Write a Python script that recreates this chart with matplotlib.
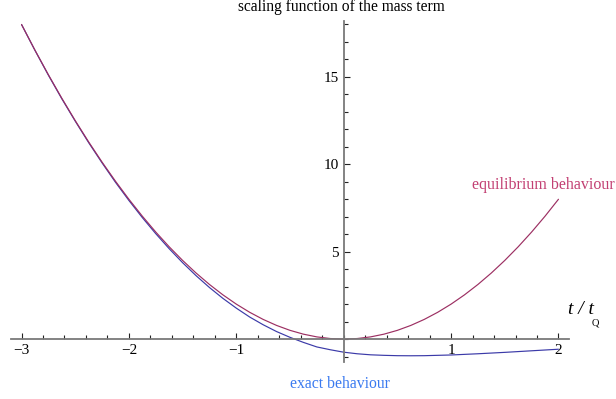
import matplotlib
matplotlib.use("Agg")
import matplotlib.pyplot as plt
from matplotlib.ticker import MultipleLocator, FixedLocator, FixedFormatter

# scaled time t / t_Q
t = [-3.0, -2.875, -2.75, -2.625, -2.5, -2.375, -2.25, -2.125,
     -2.0, -1.875, -1.75, -1.625, -1.5, -1.375, -1.25, -1.125,
     -1.0, -0.875, -0.75, -0.625, -0.5, -0.375, -0.25, -0.125,
     0.0, 0.125, 0.25, 0.375, 0.5, 0.625, 0.75, 0.875,
     1.0, 1.125, 1.25, 1.375, 1.5, 1.625, 1.75, 1.875, 2.0]

# equilibrium (adiabatic) mass term
equilibrium = [18.0, 16.53125, 15.125, 13.78125, 12.5, 11.28125, 10.125, 9.03125,
               8.0, 7.03125, 6.125, 5.28125, 4.5, 3.78125, 3.125, 2.53125,
               2.0, 1.53125, 1.125, 0.78125, 0.5, 0.28125, 0.125, 0.03125,
               0.0, 0.03125, 0.125, 0.28125, 0.5, 0.78125, 1.125, 1.53125,
               2.0, 2.53125, 3.125, 3.78125, 4.5, 5.28125, 6.125, 7.03125, 8.0]

# exact solution of the mass term
exact = [18.0, 16.52, 15.10, 13.75, 12.47, 11.24, 10.08, 8.97,
         7.93, 6.95, 6.03, 5.17, 4.37, 3.63, 2.95, 2.33,
         1.77, 1.26, 0.82, 0.43, 0.10, -0.19, -0.45, -0.61,
         -0.75, -0.84, -0.90, -0.93, -0.95, -0.955, -0.95, -0.93,
         -0.91, -0.875, -0.84, -0.80, -0.76, -0.715, -0.67, -0.625, -0.58]

x_major = [-3, -2, -1, 1, 2]
x_major_labels = ["\u22123", "\u22122", "\u22121", "1", "2"]
y_major = [5, 10, 15]
y_major_labels = ["5", "10", "15"]

W, H = 616, 399
fig = plt.figure(figsize=(W / 100, H / 100), dpi=100)
ax = fig.add_axes([10.8 / W, (H - 361.8) / H, (569.2 - 10.8) / W, (361.8 - 21.0) / H])
ax.set_xlim(-3.1, 2.1)
ax.set_ylim(-1.3, 18.2)

serif = ["Liberation Serif", "DejaVu Serif"]
eq_color = "#9c2f62"
ex_color = "#3b3aa8"

ax.plot(t, exact, color=ex_color, lw=0.85, solid_capstyle="round", solid_joinstyle="round")
ax.plot(t, equilibrium, color=eq_color, lw=0.85, solid_capstyle="round", solid_joinstyle="round")

# axes crossing at the origin
for side in ("top", "right"):
    ax.spines[side].set_visible(False)
ax.spines["left"].set_position(("data", 0))
ax.spines["bottom"].set_position(("data", 0))
for side in ("left", "bottom"):
    ax.spines[side].set_color("#7a7a7a")
    ax.spines[side].set_linewidth(1.3)

ax.xaxis.set_major_locator(FixedLocator(x_major))
ax.xaxis.set_major_formatter(FixedFormatter(x_major_labels))
ax.xaxis.set_minor_locator(MultipleLocator(0.2))
ax.yaxis.set_major_locator(FixedLocator(y_major))
ax.yaxis.set_major_formatter(FixedFormatter(y_major_labels))
ax.yaxis.set_minor_locator(MultipleLocator(1))

ax.tick_params(which="both", direction="in", color="#222222", width=0.8)
ax.tick_params(which="major", length=4.3, pad=3.5, labelsize=11)
ax.tick_params(which="minor", length=2.9)
for lbl in ax.get_xticklabels() + ax.get_yticklabels():
    lbl.set_family(serif)

ax.set_facecolor("none")

fig.text(341 / W, 1 - 7 / H, "scaling function of the mass term", family=serif,
         fontsize=11.2, ha="center", va="center")
fig.text(543 / W, 1 - 185 / H, "equilibrium behaviour", family=serif,
         fontsize=11.5, ha="center", va="center", color="#c23f72")
fig.text(340 / W, 1 - 384 / H, "exact behaviour", family=serif,
         fontsize=11.3, ha="center", va="center", color="#3a7af0")
fig.text(581 / W, 1 - 310 / H, "t / t", family=serif, style="italic",
         fontsize=14, ha="center", va="center")
fig.text(595 / W, 1 - 323 / H, "Q", family=serif,
         fontsize=7.5, ha="center", va="center")

fig.savefig("out.png", dpi=100)
